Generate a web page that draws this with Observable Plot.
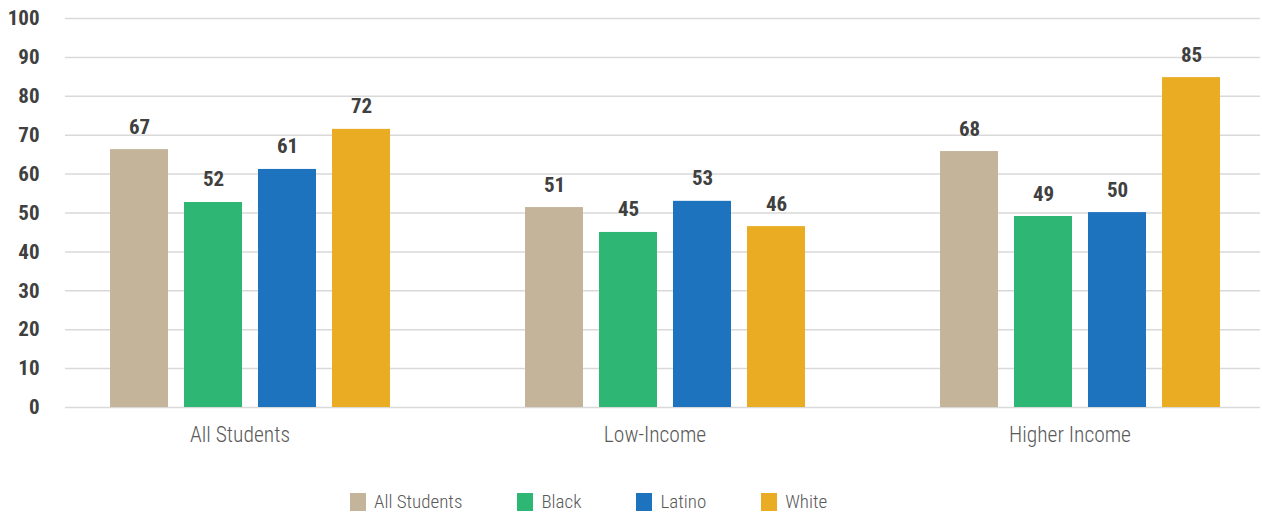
<!DOCTYPE html>
<html>
<head>
<meta charset="utf-8">
<script src="https://cdn.jsdelivr.net/npm/d3@7"></script>
<script src="https://cdn.jsdelivr.net/npm/@observablehq/plot@0.6"></script>
<style>
  body { margin: 0; background: #fff; font-family: "Roboto Condensed", "DejaVu Sans Condensed", sans-serif; }
  #legend { display: flex; gap: 55px; margin-left: 350px; margin-top: 20px; font-size: 19px; color: #595959; font-weight: 300; }
  #legend .item { display: flex; align-items: center; gap: 8px; }
  #legend .sw { width: 16px; height: 18px; display: inline-block; }
</style>
</head>
<body>
<div id="chart"></div>
<div id="legend"></div>
<script>
const groups = ["All Students", "Low-Income", "Higher Income"];
const series = ["All Students", "Black", "Latino", "White"];
const colors = ["#C4B49A", "#2DB674", "#1E73BE", "#E9AC22"];
// bar heights as drawn
const allStudentsValues = [66.3, 51.4, 65.8];
const blackValues = [52.7, 45.0, 49.1];
const latinoValues = [61.2, 53.0, 50.1];
const whiteValues = [71.5, 46.5, 84.8];
// printed labels
const allStudentsLabels = [67, 51, 68];
const blackLabels = [52, 45, 49];
const latinoLabels = [61, 53, 50];
const whiteLabels = [72, 46, 85];
const yTicks = [0, 10, 20, 30, 40, 50, 60, 70, 80, 90, 100];

const valueLists = [allStudentsValues, blackValues, latinoValues, whiteValues];
const labelLists = [allStudentsLabels, blackLabels, latinoLabels, whiteLabels];
const rows = [];
groups.forEach((g, gi) => series.forEach((s, si) => rows.push({group: g, series: s, value: valueLists[si][gi], label: labelLists[si][gi]})));

const font = '"Roboto Condensed", "DejaVu Sans Condensed", sans-serif';
const gridInsets = [[22, 0], [0, 0], [0, 28]];

const chart = Plot.plot({
  width: 1262,
  height: 470,
  marginLeft: 65,
  marginRight: 2,
  marginTop: 18,
  marginBottom: 63,
  style: {fontFamily: font, background: "#fff"},
  fx: {domain: groups, range: [43, 1288], padding: 0, axis: null},
  x: {domain: series, paddingInner: 0.21, paddingOuter: 0.88, axis: null},
  y: {domain: [0, 100], axis: null},
  color: {domain: series, range: colors},
  marks: [
    ...groups.map((g, gi) => Plot.ruleY(yTicks, {y: d => d, fx: () => g, stroke: "#d9d9d9", strokeWidth: 1.5, insetLeft: gridInsets[gi][0], insetRight: gridInsets[gi][1]})),
    Plot.text(yTicks, {y: d => d, fx: () => groups[0], text: d => String(d), frameAnchor: "left", textAnchor: "end", dx: -4, fontSize: 21, fontWeight: "bold", fill: "#404040"}),
    Plot.barY(rows, {fx: "group", x: "series", y: "value", fill: "series"}),
    Plot.text(rows, {fx: "group", x: "series", y: "value", text: d => String(d.label), lineAnchor: "bottom", dy: -16, fontSize: 21, fontWeight: "bold", fill: "#404040"}),
    Plot.text(groups, {fx: d => d, text: d => d, frameAnchor: "bottom", lineAnchor: "middle", dy: 28, dx: -11, fontSize: 21.5, fontWeight: 300, fill: "#595959"})
  ]
});
document.getElementById("chart").appendChild(chart);

const legend = document.getElementById("legend");
series.forEach((s, i) => {
  const item = document.createElement("div");
  item.className = "item";
  const sw = document.createElement("span");
  sw.className = "sw";
  sw.style.background = colors[i];
  const t = document.createElement("span");
  t.textContent = s;
  item.appendChild(sw);
  item.appendChild(t);
  legend.appendChild(item);
});
</script>
</body>
</html>
